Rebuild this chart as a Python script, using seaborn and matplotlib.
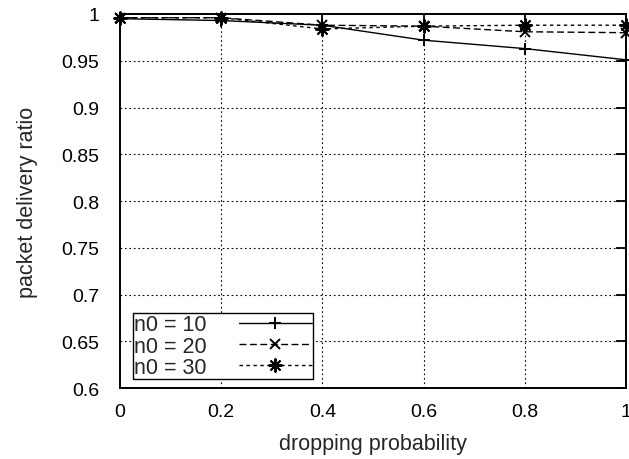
import pandas as pd
import seaborn as sns
import matplotlib.pyplot as plt
from matplotlib.ticker import FixedLocator

# data
drop_prob = [0, 0.2, 0.4, 0.6, 0.8, 1.0]
pdr_n10 = [0.995, 0.993, 0.988, 0.972, 0.963, 0.951]
pdr_n20 = [0.996, 0.996, 0.988, 0.987, 0.981, 0.980]
pdr_n30 = [0.996, 0.996, 0.984, 0.987, 0.988, 0.988]
series_labels = ['n0 = 10', 'n0 = 20', 'n0 = 30']
x_ticks = [0, 0.2, 0.4, 0.6, 0.8, 1]
x_tick_labels = ['0', '0.2', '0.4', '0.6', '0.8', '1']
y_ticks = [0.6, 0.65, 0.7, 0.75, 0.8, 0.85, 0.9, 0.95, 1.0]
y_tick_labels = ['0.6', '0.65', '0.7', '0.75', '0.8', '0.85', '0.9', '0.95', '1']

sns.set_style('white')
plt.rcParams['font.family'] = ['Liberation Sans', 'DejaVu Sans']

fig = plt.figure(figsize=(6.29, 4.60), dpi=100)
ax = fig.add_axes([0.1908, 0.1543, 0.8044, 0.8131])

# dotted grid, drawn under the data
for xv in x_ticks[1:-1]:
    ax.axvline(xv, color='black', lw=0.8, ls=(0, (1.5, 2.5)), zorder=1)
for yv in y_ticks[1:-1]:
    ax.axhline(yv, color='black', lw=0.8, ls=(0, (1.5, 2.5)), zorder=1)

styles = [
    (pdr_n10, '+', '-', 9),
    (pdr_n20, 'x', (0, (5, 2.5)), 6.5),
    (pdr_n30, (8, 2, 0), (0, (2.5, 2.5)), 10),
]
for (vals, mk, ls, ms), lab in zip(styles, series_labels):
    df = pd.DataFrame({'p': drop_prob, 'pdr': vals})
    sns.lineplot(data=df, x='p', y='pdr', ax=ax, color='black', lw=1.0,
                 linestyle=ls, marker=mk, markersize=ms, markeredgewidth=1.4,
                 markeredgecolor='black', label=lab, zorder=3, clip_on=False)

ax.set_xlim(0, 1)
ax.set_ylim(0.6, 1.0)
ax.xaxis.set_major_locator(FixedLocator(x_ticks))
ax.yaxis.set_major_locator(FixedLocator(y_ticks))
ax.set_xticklabels(x_tick_labels)
ax.set_yticklabels(y_tick_labels)
ax.tick_params(direction='in', length=7, width=1.3, labelsize=14, top=True, right=True,
               colors='black')
ax.tick_params(axis='y', pad=15)
ax.tick_params(axis='x', pad=11)
for s in ax.spines.values():
    s.set_linewidth(1.4)
    s.set_color('black')

ax.set_xlabel('dropping probability', fontsize=15.5, labelpad=9)
ax.set_ylabel('packet delivery ratio', fontsize=15.5, labelpad=17)

leg = ax.legend(loc='lower left', bbox_to_anchor=(0.025, 0.024), borderaxespad=0,
                markerfirst=False, fontsize=15.5, handlelength=3.4, handletextpad=1.5,
                labelspacing=0.02, borderpad=0.05, fancybox=False, framealpha=1,
                edgecolor='black')
leg.get_frame().set_linewidth(1.0)
leg.set_zorder(5)

fig.savefig('out.png', dpi=100)
